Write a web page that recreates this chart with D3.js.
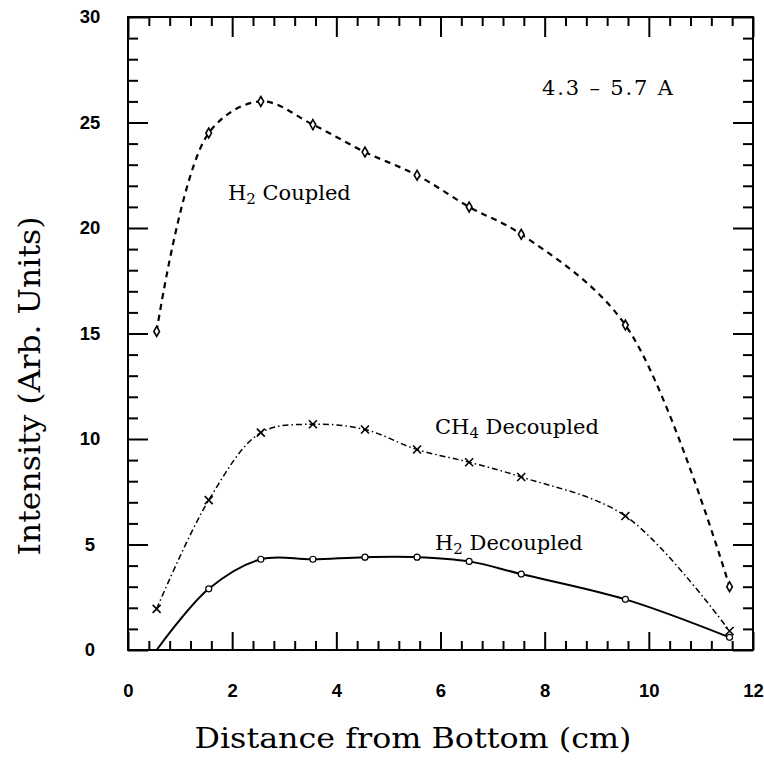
<!DOCTYPE html>
<html>
<head>
<meta charset="utf-8">
<script src="https://cdn.jsdelivr.net/npm/d3@7"></script>
<style>
  body { margin: 0; background: #fff; }
  svg { display: block; }
</style>
</head>
<body>
<script>
// distances (cm) where samples were measured
var distance = [0.55, 1.55, 2.55, 3.55, 4.55, 5.55, 6.55, 7.55, 9.55, 11.55];

// intensities
var h2Coupled    = [15.1, 24.5, 26.0, 24.9, 23.6, 22.5, 21.0, 19.7, 15.4, 3.0];
var ch4Decoupled = [1.95, 7.1, 10.3, 10.7, 10.45, 9.5, 8.9, 8.2, 6.35, 0.9];
var h2Decoupled  = [0.0, 2.9, 4.3, 4.3, 4.4, 4.4, 4.2, 3.6, 2.4, 0.6];

var xMajorTicks = [0, 2, 4, 6, 8, 10, 12];
var yMajorTicks = [0, 5, 10, 15, 20, 25, 30];

var width = 764, height = 760;
var plotLeft = 128, plotRight = 753, plotTop = 17, plotBottom = 650;

var svg = d3.select("body").append("svg")
    .attr("width", width)
    .attr("height", height);

var x = d3.scaleLinear().domain([0, 12]).range([plotLeft, plotRight]);
var y = d3.scaleLinear().domain([0, 30]).range([plotBottom, plotTop]);

var xMinor = d3.range(0, 12.001, 0.4).filter(function(v){ return Math.abs(v / 2 - Math.round(v / 2)) > 0.01; });
var yMinor = d3.range(0, 31).filter(function(v){ return v % 5 != 0; });

function styleAxis(g) {
    g.select(".domain").remove();
    g.selectAll("line").attr("stroke", "#000").attr("stroke-width", 2);
}

// bottom axis, ticks pointing in
var gb = svg.append("g").attr("transform", "translate(0," + plotBottom + ")")
    .call(d3.axisBottom(x).tickValues(xMajorTicks).tickSize(-18).tickFormat(d3.format("d")));
styleAxis(gb);
gb.selectAll("text")
    .attr("y", 34)
    .attr("font-family", "Liberation Sans, Arial, sans-serif")
    .attr("font-weight", "bold")
    .attr("font-size", 18.5)
    .attr("fill", "#000");
svg.append("g").attr("transform", "translate(0," + plotBottom + ")")
    .call(d3.axisBottom(x).tickValues(xMinor).tickSize(-9).tickFormat(""))
    .call(styleAxis);

// top axis
svg.append("g").attr("transform", "translate(0," + plotTop + ")")
    .call(d3.axisTop(x).tickValues(xMajorTicks).tickSize(-20).tickFormat(""))
    .call(styleAxis);
svg.append("g").attr("transform", "translate(0," + plotTop + ")")
    .call(d3.axisTop(x).tickValues(xMinor).tickSize(-9).tickFormat(""))
    .call(styleAxis);

// left axis
var gl = svg.append("g").attr("transform", "translate(" + plotLeft + ",0)")
    .call(d3.axisLeft(y).tickValues(yMajorTicks).tickSize(-20).tickFormat(d3.format("d")));
styleAxis(gl);
gl.selectAll("text")
    .attr("x", -38)
    .attr("text-anchor", "middle")
    .attr("font-family", "Liberation Sans, Arial, sans-serif")
    .attr("font-weight", "bold")
    .attr("font-size", 18.5)
    .attr("fill", "#000");
svg.append("g").attr("transform", "translate(" + plotLeft + ",0)")
    .call(d3.axisLeft(y).tickValues(yMinor).tickSize(-10).tickFormat(""))
    .call(styleAxis);

// right axis
svg.append("g").attr("transform", "translate(" + plotRight + ",0)")
    .call(d3.axisRight(y).tickValues(yMajorTicks).tickSize(-20).tickFormat(""))
    .call(styleAxis);
svg.append("g").attr("transform", "translate(" + plotRight + ",0)")
    .call(d3.axisRight(y).tickValues(yMinor).tickSize(-10).tickFormat(""))
    .call(styleAxis);

// frame
svg.append("rect")
    .attr("x", plotLeft).attr("y", plotTop)
    .attr("width", plotRight - plotLeft).attr("height", plotBottom - plotTop)
    .attr("fill", "none").attr("stroke", "#000").attr("stroke-width", 2);

// curves
var line = d3.line()
    .x(function(d){ return x(d[0]); })
    .y(function(d){ return y(d[1]); })
    .curve(d3.curveCatmullRom.alpha(0.5));

function pts(vals) { return distance.map(function(d, i){ return [d, vals[i]]; }); }

svg.append("path").datum(pts(h2Coupled))
    .attr("d", line).attr("fill", "none")
    .attr("stroke", "#000").attr("stroke-width", 2.2)
    .attr("stroke-dasharray", "6,5");
svg.append("path").datum(pts(ch4Decoupled))
    .attr("d", line).attr("fill", "none")
    .attr("stroke", "#000").attr("stroke-width", 1.5)
    .attr("stroke-dasharray", "6,3,1.5,3");
svg.append("path").datum(pts(h2Decoupled))
    .attr("d", line).attr("fill", "none")
    .attr("stroke", "#000").attr("stroke-width", 2);

// markers
svg.append("g").selectAll("path").data(pts(h2Coupled)).enter().append("path")
    .attr("d", d3.symbol().type(d3.symbolDiamond).size(28))
    .attr("transform", function(d){ return "translate(" + x(d[0]) + "," + y(d[1]) + ")"; })
    .attr("fill", "#fff").attr("stroke", "#000").attr("stroke-width", 1.6);
svg.append("g").selectAll("path").data(pts(ch4Decoupled)).enter().append("path")
    .attr("d", "M-4,-4L4,4M-4,4L4,-4")
    .attr("transform", function(d){ return "translate(" + x(d[0]) + "," + y(d[1]) + ")"; })
    .attr("fill", "none").attr("stroke", "#000").attr("stroke-width", 1.6);
svg.append("g").selectAll("circle").data(pts(h2Decoupled).slice(1)).enter().append("circle")
    .attr("cx", function(d){ return x(d[0]); })
    .attr("cy", function(d){ return y(d[1]); })
    .attr("r", 3)
    .attr("fill", "#fff").attr("stroke", "#000").attr("stroke-width", 1.2);

// in-plot labels
var serif = "DejaVu Serif, Georgia, serif";
function label(px, py, main, sub, rest) {
    var t = svg.append("text")
        .attr("x", px).attr("y", py)
        .attr("font-family", serif).attr("font-size", 21).attr("fill", "#000");
    t.append("tspan").text(main);
    if (sub) {
        t.append("tspan").attr("font-size", 15).attr("dy", 4).text(sub);
        t.append("tspan").attr("dy", -4).text(rest);
    }
    return t;
}
label(542, 95, "4.3 \u2013 5.7 A").attr("textLength", 131).attr("lengthAdjust", "spacing");
label(228, 200, "H", "2", " Coupled");
label(435, 434, "CH", "4", " Decoupled");
label(435, 550, "H", "2", " Decoupled");

// axis titles
svg.append("text")
    .attr("x", 413).attr("y", 748)
    .attr("text-anchor", "middle")
    .attr("font-family", serif)
    .attr("font-size", 27)
    .attr("textLength", 437).attr("lengthAdjust", "spacingAndGlyphs")
    .text("Distance from Bottom (cm)");

svg.append("text")
    .attr("transform", "translate(40,386) rotate(-90)")
    .attr("text-anchor", "middle")
    .attr("font-family", serif)
    .attr("font-size", 29)
    .attr("textLength", 339).attr("lengthAdjust", "spacingAndGlyphs")
    .text("Intensity (Arb. Units)");
</script>
</body>
</html>
